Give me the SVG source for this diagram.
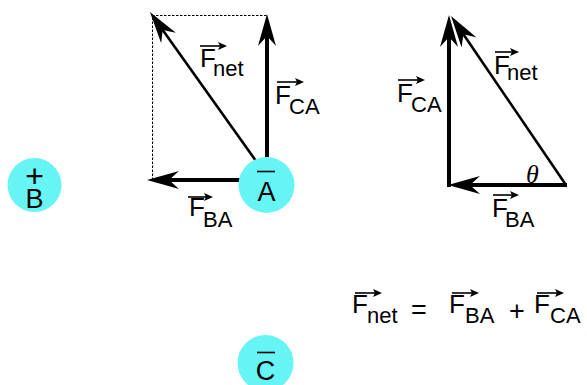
<svg xmlns="http://www.w3.org/2000/svg" width="587" height="385" viewBox="0 0 587 385">
<style>
.bg{fill:#ffffff}
.charge{fill:#66f4f4}
.t{font-family:"Liberation Sans",Arial,sans-serif;fill:#000}
.F{font-size:26px}
.sub{font-size:22px}
.op{font-size:27px}
.q{font-size:27px}
.thick{stroke:#000;stroke-width:4;fill:none;marker-end:url(#big)}
.thin{stroke:#000;stroke-width:2.6;fill:none;marker-end:url(#big)}
.vec{stroke:#000;stroke-width:1.6;fill:none;marker-end:url(#small)}
.dash{stroke:#000;stroke-width:1;fill:none;stroke-dasharray:2.5,1.5}
.bar{stroke:#000;stroke-width:1.6}
</style>
<defs>
<marker id="big" viewBox="0 0 32 18" refX="10" refY="9" markerWidth="32" markerHeight="18" markerUnits="userSpaceOnUse" orient="auto">
<path d="M32,9 L0,0 L10,9 L0,18 Z" fill="#000"/>
</marker>
<marker id="small" viewBox="0 0 9 8" refX="2" refY="4" markerWidth="9" markerHeight="8" markerUnits="userSpaceOnUse" orient="auto">
<path d="M9,4 L0,0 L2,4 L0,8 Z" fill="#000"/>
</marker>
</defs>
<rect class="bg" width="587" height="385"/>

<g id="connectors">
<path class="dash" d="M152.5,180 V15.5 H267"/>
<line class="thick" x1="267" y1="157" x2="267" y2="36"/>
<line class="thick" x1="240" y1="180" x2="169" y2="180"/>
<line class="thin" x1="256" y1="161" x2="162.7" y2="29.9"/>
<line class="thick" x1="449" y1="187" x2="449" y2="37"/>
<line class="thick" x1="567" y1="185" x2="470" y2="185"/>
<line class="thin" x1="566" y1="185" x2="463.4" y2="34.2"/>
</g>

<g id="charge-A">
<circle class="charge" cx="266.5" cy="185" r="28"/>
<line class="bar" x1="257" y1="171.5" x2="275" y2="171.5"/>
<text class="t q" x="266.5" y="201" text-anchor="middle">A</text>
</g>

<g id="charge-B">
<circle class="charge" cx="34.5" cy="185" r="27"/>
<text class="t" font-size="32" x="34.5" y="187" text-anchor="middle">+</text>
<text class="t q" x="34.5" y="208" text-anchor="middle">B</text>
</g>

<g id="charge-C">
<circle class="charge" cx="265.5" cy="363" r="28"/>
<line class="bar" x1="257" y1="352.5" x2="275" y2="352.5"/>
<text class="t q" x="265.5" y="380" text-anchor="middle">C</text>
</g>

<g id="label-Fnet-left">
<line class="vec" x1="200" y1="46" x2="220" y2="46"/>
<text class="t F" x="200" y="67">F</text>
<text class="t sub" x="213" y="76">net</text>
</g>

<g id="label-FCA-left">
<line class="vec" x1="277" y1="82" x2="297" y2="82"/>
<text class="t F" x="275" y="104">F</text>
<text class="t sub" x="289" y="114">CA</text>
</g>

<g id="label-FBA-left">
<line class="vec" x1="188" y1="197" x2="206" y2="197"/>
<text class="t F" x="189" y="216">F</text>
<text class="t sub" x="203" y="227">BA</text>
</g>

<g id="label-FCA-right">
<line class="vec" x1="398" y1="80" x2="418" y2="80"/>
<text class="t F" x="397" y="102">F</text>
<text class="t sub" x="411" y="112">CA</text>
</g>

<g id="label-Fnet-right">
<line class="vec" x1="495" y1="52" x2="512" y2="52"/>
<text class="t F" x="494" y="74">F</text>
<text class="t sub" x="507" y="80">net</text>
</g>

<g id="label-FBA-right">
<line class="vec" x1="493" y1="195" x2="512" y2="195"/>
<text class="t F" x="492" y="217">F</text>
<text class="t sub" x="505" y="227">BA</text>
</g>

<g id="angle-theta">
<text x="526" y="183" font-family="'Liberation Serif','Times New Roman',serif" font-style="italic" font-size="26">θ</text>
</g>

<g id="equation">
<line class="vec" x1="355" y1="293" x2="375" y2="293"/>
<text class="t F" x="352" y="313">F</text>
<text class="t sub" x="367" y="323">net</text>
<text class="t op" x="411" y="319">=</text>
<line class="vec" x1="452" y1="293" x2="472" y2="293"/>
<text class="t F" x="449" y="313">F</text>
<text class="t sub" x="465" y="323">BA</text>
<text class="t op" x="509" y="320">+</text>
<line class="vec" x1="537" y1="293" x2="557" y2="293"/>
<text class="t F" x="534" y="313">F</text>
<text class="t sub" x="550" y="323">CA</text>
</g>
</svg>
